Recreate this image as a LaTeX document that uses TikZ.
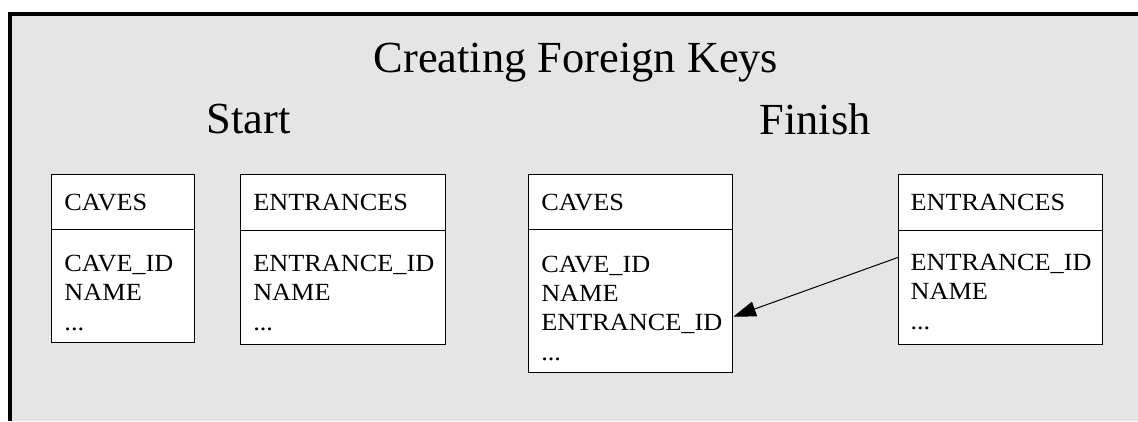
\documentclass[tikz,border=0pt]{standalone}
\usepackage{fontspec}
\setmainfont{Liberation Serif}
\newfontfamily\tabfont[FakeStretch=1.065]{Liberation Serif}
\usetikzlibrary{arrows.meta}
\definecolor{panelgray}{HTML}{E5E5E5}

\tikzset{
  frameline/.style={line width=2.9pt},
  tablebox/.style={draw=black, line width=0.75pt, fill=white, inner sep=0pt, outer sep=0pt, anchor=north west},
  rowrule/.style={draw=black, line width=0.75pt},
  cell/.style={anchor=base west, inner sep=0pt, font=\tabfont\fontsize{18.5}{22}\selectfont},
  heading/.style={anchor=base, inner sep=0pt, font=\fontsize{33.3}{40}\selectfont},
  fk/.style={line width=0.75pt, -{Triangle[length=17pt,width=11.5pt]}},
}

\begin{document}
\begin{tikzpicture}[x=0.75pt, y=-0.75pt]
  \useasboundingbox (0,0) rectangle (1138,421);

  % panel and its frame
  \fill[panelgray] (10.3,13.8) rectangle (1138,421);
  \draw[frameline] (10.3,421) -- (10.3,13.8) -- (1138,13.8);

  % headings
  \node[heading] (title)  at (576,72.7)  {Creating Foreign Keys};
  \node[heading] (start)  at (248.7,133.3) {Start};
  \node[heading] (finish) at (815,134)   {Finish};

  % ---- Start: CAVES
  \node[tablebox, minimum width=106.95pt, minimum height=125.7pt] (cavesA) at (51.7,174.7) {};
  \draw[rowrule] (cavesA.north west |- 0,229) -- (cavesA.north east |- 0,229);
  \node[cell] (cavesAhead) at (64.2,210.5) {CAVES};
  \node[cell] (cavesAf1) at (64.2,271.2) {CAVE\_ID};
  \node[cell] (cavesAf2) at (64.2,300.6) {NAME};
  \node[cell] (cavesAf3) at (64.2,330) {...};

  % ---- Start: ENTRANCES
  \node[tablebox, minimum width=153.45pt, minimum height=127.7pt] (entA) at (240.7,174.7) {};
  \draw[rowrule] (entA.north west |- 0,230.3) -- (entA.north east |- 0,230.3);
  \node[cell] (entAhead) at (253,210.5) {ENTRANCES};
  \node[cell] (entAf1) at (253,271.5) {ENTRANCE\_ID};
  \node[cell] (entAf2) at (253,300.5) {NAME};
  \node[cell] (entAf3) at (253,330) {...};

  % ---- Finish: CAVES
  \node[tablebox, minimum width=153.2pt, minimum height=148pt] (cavesB) at (528,174.7) {};
  \draw[rowrule] (cavesB.north west |- 0,229) -- ([xshift=0.75pt]cavesB.north east |- 0,229);
  \node[cell] (cavesBhead) at (541,210.7) {CAVES};
  \node[cell] (cavesBf1) at (541,272.3) {CAVE\_ID};
  \node[cell] (cavesBf2) at (541,301) {NAME};
  \node[cell] (cavesBf3) at (541,330.7) {ENTRANCE\_ID};
  \node[cell] (cavesBf4) at (541,360) {...};

  % ---- Finish: ENTRANCES
  \node[tablebox, minimum width=153.3pt, minimum height=127.7pt] (entB) at (898.3,174.7) {};
  \draw[rowrule] (entB.north west |- 0,230.7) -- (entB.north east |- 0,230.7);
  \node[cell] (entBhead) at (910.3,210.3) {ENTRANCES};
  \node[cell] (entBf1) at (910.3,270.5) {ENTRANCE\_ID};
  \node[cell] (entBf2) at (910.3,299.6) {NAME};
  \node[cell] (entBf3) at (910.3,329) {...};

  % foreign key reference
  \draw[fk] ([yshift=-61.95pt]entB.north west) -- ([yshift=-106.5pt, xshift=0.75pt]cavesB.north east);
\end{tikzpicture}
\end{document}
